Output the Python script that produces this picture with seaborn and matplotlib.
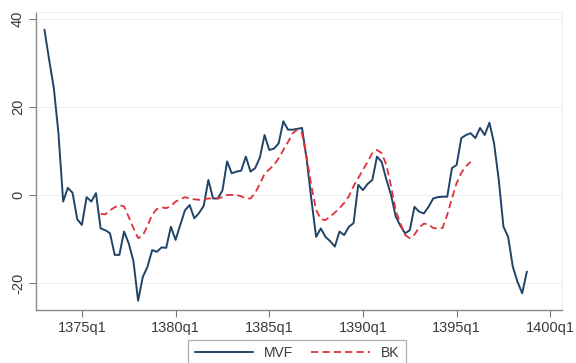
import numpy as np
import pandas as pd
import matplotlib
matplotlib.use("Agg")
import matplotlib.pyplot as plt
from matplotlib.lines import Line2D
import seaborn as sns

# Quarterly index: 0 = 1375q1, one step per quarter
mvf_start = -8   # 1373q1
mvf = [37.5, 30.7, 24.3, 13.9, -1.5, 1.6, 0.5, -5.5,
       -6.8, -0.5, -1.5, 0.4, -7.6, -8.0, -8.7, -13.6, -13.6, -8.3,
       -11.0, -15.0, -24.0, -18.6, -16.3, -12.5, -12.9, -11.9, -12.0, -7.2,
       -10.2, -6.8, -3.5, -2.3, -5.3, -4.1, -2.5, 3.4, -0.8, -0.8,
       1.0, 7.6, 4.9, 5.3, 5.5, 8.7, 5.3, 6.1, 8.5, 13.6,
       10.2, 10.5, 11.7, 16.7, 14.8, 14.8, 15.0, 15.2, 8.0, -1.1,
       -9.5, -7.6, -9.5, -10.5, -11.7, -8.3, -9.1, -7.2, -6.4, 2.3,
       1.1, 2.5, 3.4, 8.7, 7.5, 3.5, 0.0, -4.9, -7.0, -8.7,
       -8.0, -2.7, -3.8, -4.2, -2.7, -0.8, -0.5, -0.4, -0.4, 6.1,
       6.8, 12.9, 13.6, 14.0, 12.9, 15.2, 13.6, 16.4, 11.7, 3.4,
       -7.2, -9.5, -16.3, -19.7, -22.3, -17.4]

bk_start = 4     # 1376q1
bk = [-4.3, -4.4, -3.5, -2.8, -2.3, -2.6, -5.0, -7.5, -9.8, -9.2,
      -7.0, -4.5, -3.2, -2.8, -3.0, -2.5, -1.5, -1.0, -0.5, -0.8,
      -1.0, -1.1, -1.0, -0.8, -0.8, -0.8, -0.5, 0.0, 0.0, 0.0,
      -0.3, -0.8, -0.8, 0.5, 2.5, 4.8, 5.8, 6.8, 8.3, 10.2,
      12.0, 14.0, 14.8, 14.0, 8.5, 2.0, -3.4, -5.5, -5.7, -4.9,
      -4.0, -3.0, -1.8, -0.3, 2.0, 3.8, 5.7, 7.5, 9.5, 10.2,
      9.5, 6.8, 2.0, -3.5, -6.5, -9.1, -9.8, -9.0, -7.4, -6.5,
      -6.7, -7.5, -7.6, -7.5, -4.5, -0.8, 2.7, 5.0, 6.5, 7.5]

x_tick_pos = [0, 20, 40, 60, 80, 100]
x_tick_labels = ["1375q1", "1380q1", "1385q1", "1390q1", "1395q1", "1400q1"]
y_ticks = [-20, 0, 20, 40]

df_mvf = pd.DataFrame({"t": np.arange(mvf_start, mvf_start + len(mvf)), "value": mvf})
df_bk = pd.DataFrame({"t": np.arange(bk_start, bk_start + len(bk)), "value": bk})

sns.set_theme(style="white")
plt.rcParams["font.family"] = ["Liberation Sans", "DejaVu Sans"]

navy = "#1f4468"
red = "#e0303a"
text_c = "#3a3a3a"

fig = plt.figure(figsize=(5.76, 3.63), dpi=100)
fig.patch.set_facecolor("white")
ax = fig.add_axes([36 / 576, 1 - 310 / 363, (562 - 36) / 576, (310 - 12) / 363])
ax.set_facecolor("white")

for yv in y_ticks:
    ax.axhline(yv, color="#e9eef3", lw=0.8, zorder=0)

sns.lineplot(data=df_mvf, x="t", y="value", ax=ax, color=navy, lw=1.4, legend=False)
sns.lineplot(data=df_bk, x="t", y="value", ax=ax, color=red, lw=1.3, legend=False)
ax.lines[-1].set_dashes([4.0, 2.3])

ax.set_xlim(-9.8, 102.5)
ax.set_ylim(-26.1, 41.5)
ax.set_xticks(x_tick_pos)
ax.set_xticklabels(x_tick_labels)
ax.set_yticks(y_ticks)
ax.set_yticklabels([str(v) for v in y_ticks], rotation=90, va="center")
ax.set_xlabel("")
ax.set_ylabel("")

ax.tick_params(axis="both", which="major", direction="out", length=5, width=0.8,
               color="#777777", labelcolor=text_c, labelsize=10.5, pad=3,
               bottom=True, left=True)
for side in ["left", "bottom"]:
    ax.spines[side].set_color("#8a8a8a")
    ax.spines[side].set_linewidth(1.0)
for side in ["top", "right"]:
    ax.spines[side].set_color("#eeeeee")
    ax.spines[side].set_linewidth(0.8)

handles = [Line2D([], [], color=navy, lw=1.4),
           Line2D([], [], color=red, lw=1.3, dashes=[4.0, 2.3])]
leg = fig.legend(handles, ["MVF", "BK"], loc="upper center", ncol=2,
                 bbox_to_anchor=(297 / 576, 1 - 340 / 363), fontsize=10,
                 frameon=True, fancybox=False, handlelength=4.2,
                 columnspacing=1.3, handletextpad=0.8, borderpad=0.45,
                 borderaxespad=0)
leg.get_frame().set_edgecolor("#9a9a9a")
leg.get_frame().set_linewidth(0.9)
for t in leg.get_texts():
    t.set_color(text_c)

fig.savefig("out.png", dpi=100, facecolor="white")
